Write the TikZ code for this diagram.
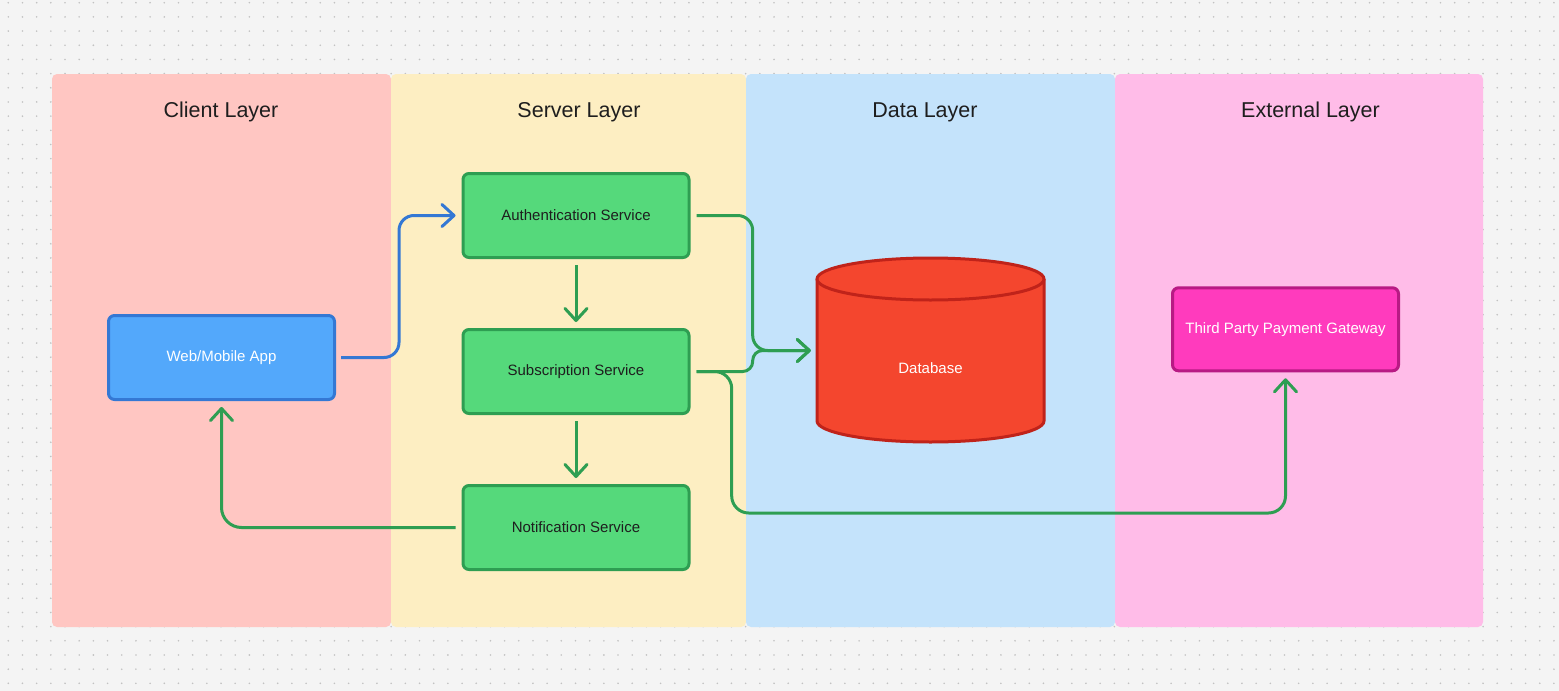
\documentclass[tikz,border=0pt]{standalone}
\usepackage{fontspec}
\setmainfont{Liberation Sans}
\usetikzlibrary{arrows.meta}
\definecolor{bg}{HTML}{F4F4F4}
\definecolor{dotc}{HTML}{C2C2C2}
\definecolor{clientc}{HTML}{FFC6C2}
\definecolor{serverc}{HTML}{FDEEC2}
\definecolor{datac}{HTML}{C4E3FB}
\definecolor{extc}{HTML}{FFBCE8}
\definecolor{txt}{HTML}{1E1E1E}
\definecolor{gfill}{HTML}{55D97B}
\definecolor{gline}{HTML}{2E9E52}
\definecolor{bfill}{HTML}{53A8FB}
\definecolor{bline}{HTML}{3478D4}
\definecolor{pfill}{HTML}{FF3BBD}
\definecolor{pline}{HTML}{B81A84}
\definecolor{dbfill}{HTML}{F4462E}
\definecolor{dbline}{HTML}{C0231A}
\tikzset{
  lane/.style={rounded corners=5pt},
  title/.style={font=\fontsize{21.5}{26}\selectfont, text=txt, anchor=base, inner sep=0pt},
  box/.style={draw, line width=3pt, rounded corners=6pt, minimum width=226pt, minimum height=84pt, font=\fontsize{15}{18}\selectfont, inner sep=0pt},
  gbox/.style={box, fill=gfill, draw=gline, text=txt},
  conn/.style={line width=3pt, draw=gline, rounded corners=15pt, -{Straight Barb[length=12pt,width=22pt,round]}, shorten <=6pt, shorten >=6pt},
}
\begin{document}
\begin{tikzpicture}[x=1pt,y=-1pt]
\useasboundingbox (0,0) rectangle (1559,691);
\fill[bg] (0,0) rectangle (1559,691);
\foreach \i in {0,...,109} {
  \foreach \j in {0,...,48} {
    \fill[dotc] ({8.3+14.18*\i},{2.7+14.18*\j}) circle[radius=0.9pt];
  }
}
% lanes
\fill[lane, clientc] (52,74) rectangle (391,627);
\fill[lane, serverc] (391,74) rectangle (746,627);
\fill[lane, datac] (746,74) rectangle (1115,627);
\fill[lane, extc] (1115,74) rectangle (1483,627);
\node[title] (tclient) at (221,117) {Client Layer};
\node[title] (tserver) at (579,117) {Server Layer};
\node[title] (tdata) at (925,117) {Data Layer};
\node[title] (text) at (1310.5,117) {External Layer};
% boxes
\node[box, fill=bfill, draw=bline, text=white] (web) at (221.5,357.5) {Web/Mobile App};
\node[gbox] (auth) at (576,215.5) {Authentication Service};
\node[gbox] (sub) at (576,371.5) {Subscription Service};
\node[gbox] (notif) at (576,527.5) {Notification Service};
\node[box, fill=pfill, draw=pline, text=white, minimum height=83pt] (pay) at (1285.5,329.3) {Third Party Payment Gateway};
% database
\fill[dbfill] (817,279) rectangle (1044,421);
\fill[dbfill] (930.5,421) ellipse [x radius=113.5, y radius=21];
\draw[dbline, line width=3pt, line join=round] (817,279) -- (817,421) arc[start angle=180, end angle=0, x radius=113.5, y radius=21] -- (1044,279);
\filldraw[fill=dbfill, draw=dbline, line width=3pt] (930.5,279) ellipse [x radius=113.5, y radius=21];
\node[inner sep=0pt, minimum width=227pt, minimum height=185pt] (db) at (930.5,350.5) {};
\node[font=\fontsize{15}{18}\selectfont, text=white] (dblabel) at (930.5,368) {Database};
% connectors
\draw[conn, draw=bline, shorten <=5pt] (web.east) -- (399,357.5) |- (auth.west);
\draw[conn] (auth.south) -- (sub.north);
\draw[conn] (sub.south) -- (notif.north);
\draw[conn, rounded corners=20pt] (notif.west) -| (web.south);
\draw[conn] (auth.east) -- (752.7,215.5) |- (db.west);
\draw[conn, rounded corners=10pt] (sub.east) -- (752.7,371.5) |- (db.west);
\draw[conn, rounded corners=17pt] (sub.east) -- (731.7,371.5) -- (731.7,513) -| (pay.south);
\end{tikzpicture}
\end{document}
